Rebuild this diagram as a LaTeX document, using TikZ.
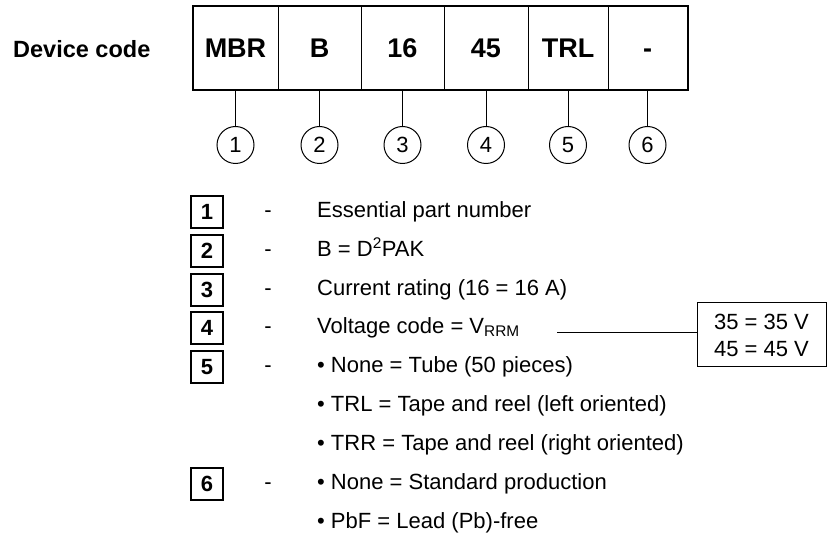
\documentclass[tikz,border=0pt]{standalone}
\usepackage{fontspec}
\setmainfont{Liberation Sans}
\tikzset{
    cell/.style={draw,line width=1pt,minimum height=83pt,inner sep=0pt,text height=19pt,text depth=0pt,
        font=\fontsize{27}{30}\selectfont\bfseries},
    num/.style={draw,circle,line width=1pt,minimum size=37pt,inner sep=0pt,
        font=\fontsize{22}{26}\selectfont},
    key/.style={draw,line width=1.7pt,minimum size=32pt,inner sep=0pt,
        font=\fontsize{22}{26}\selectfont\bfseries},
    minus/.style={inner sep=0pt,text height=16pt,text depth=5pt,font=\fontsize{22}{26}\selectfont},
    desc/.style={anchor=west,inner sep=0pt,text height=16pt,text depth=5pt,
        font=\fontsize{22}{26}\selectfont},
}
\begin{document}
\begin{tikzpicture}[x=1pt,y=-1pt]
        \useasboundingbox (0,0) rectangle (828,537);
        %code
        \node[anchor=west,inner sep=0pt,font=\fontsize{23.5}{28}\selectfont\bfseries] (dev) at (13,49) {Device code};
        \node[cell,minimum width=85pt] (mbr) at (235.5,48.5) {MBR};
        \node[cell,minimum width=83pt] (pkg) at (319.5,48.5) {B};
        \node[cell,minimum width=83pt] (cur) at (402.5,48.5) {16};
        \node[cell,minimum width=84pt] (volt) at (486,48.5) {45};
        \node[cell,minimum width=80pt] (pack) at (568,48.5) {TRL};
        \node[cell,minimum width=79pt] (lead) at (647.5,48.5) {-};
        \draw[line width=2pt] (mbr.north west) rectangle (lead.south east);
        
        %circles
        \node[num] (n1) at (235.5,145) {1};
        \node[num] (n2) at (319.5,145) {2};
        \node[num] (n3) at (402.5,145) {3};
        \node[num] (n4) at (486,145) {4};
        \node[num] (n5) at (568,145) {5};
        \node[num] (n6) at (647.5,145) {6};
        \draw[line width=1pt] (mbr.south) -- (n1.north);
        \draw[line width=1pt] (pkg.south) -- (n2.north);
        \draw[line width=1pt] (cur.south) -- (n3.north);
        \draw[line width=1pt] (volt.south) -- (n4.north);
        \draw[line width=1pt] (pack.south) -- (n5.north);
        \draw[line width=1pt] (lead.south) -- (n6.north);
        
        %legend
        \node[key] (k1) at (207,212) {1};
        \node[minus] (m1) at (268,212) {-};
        \node[desc] (d1) at (317,212) {Essential part number};
        \node[key] (k2) at (207,251) {2};
        \node[minus] (m2) at (268,251) {-};
        \node[desc] (d2) at (317,251) {B = D\textsuperscript{2}PAK};
        \node[key] (k3) at (207,290) {3};
        \node[minus] (m3) at (268,290) {-};
        \node[desc] (d3) at (317,290) {Current rating (16 = 16 A)};
        \node[key] (k4) at (207,328) {4};
        \node[minus] (m4) at (268,328) {-};
        \node[desc] (d4) at (317,328) {Voltage code = V\textsubscript{RRM}};
        \node[key] (k5) at (207,367) {5};
        \node[minus] (m5) at (268,367) {-};
        \node[desc] (d5) at (317,367) {\textbullet{} None = Tube (50 pieces)};
        \node[desc] (d5b) at (317,406) {\textbullet{} TRL = Tape and reel (left oriented)};
        \node[desc] (d5c) at (317,445) {\textbullet{} TRR = Tape and reel (right oriented)};
        \node[key] (k6) at (207,484) {6};
        \node[minus] (m6) at (268,484) {-};
        \node[desc] (d6) at (317,484) {\textbullet{} None = Standard production};
        \node[desc] (d6b) at (317,523) {\textbullet{} PbF = Lead (Pb)-free};
        
        %voltage box
        \node[draw,line width=1pt,minimum width=129pt,minimum height=64pt,align=left,
            font=\fontsize{22}{27}\selectfont] (vr) at (761.5,335) {35 = 35 V\\45 = 45 V};
        \coordinate (vs) at (557,333);
        \draw[line width=1pt] (vs) -- (vs -| vr.west);
        
    \end{tikzpicture}
\end{document}
